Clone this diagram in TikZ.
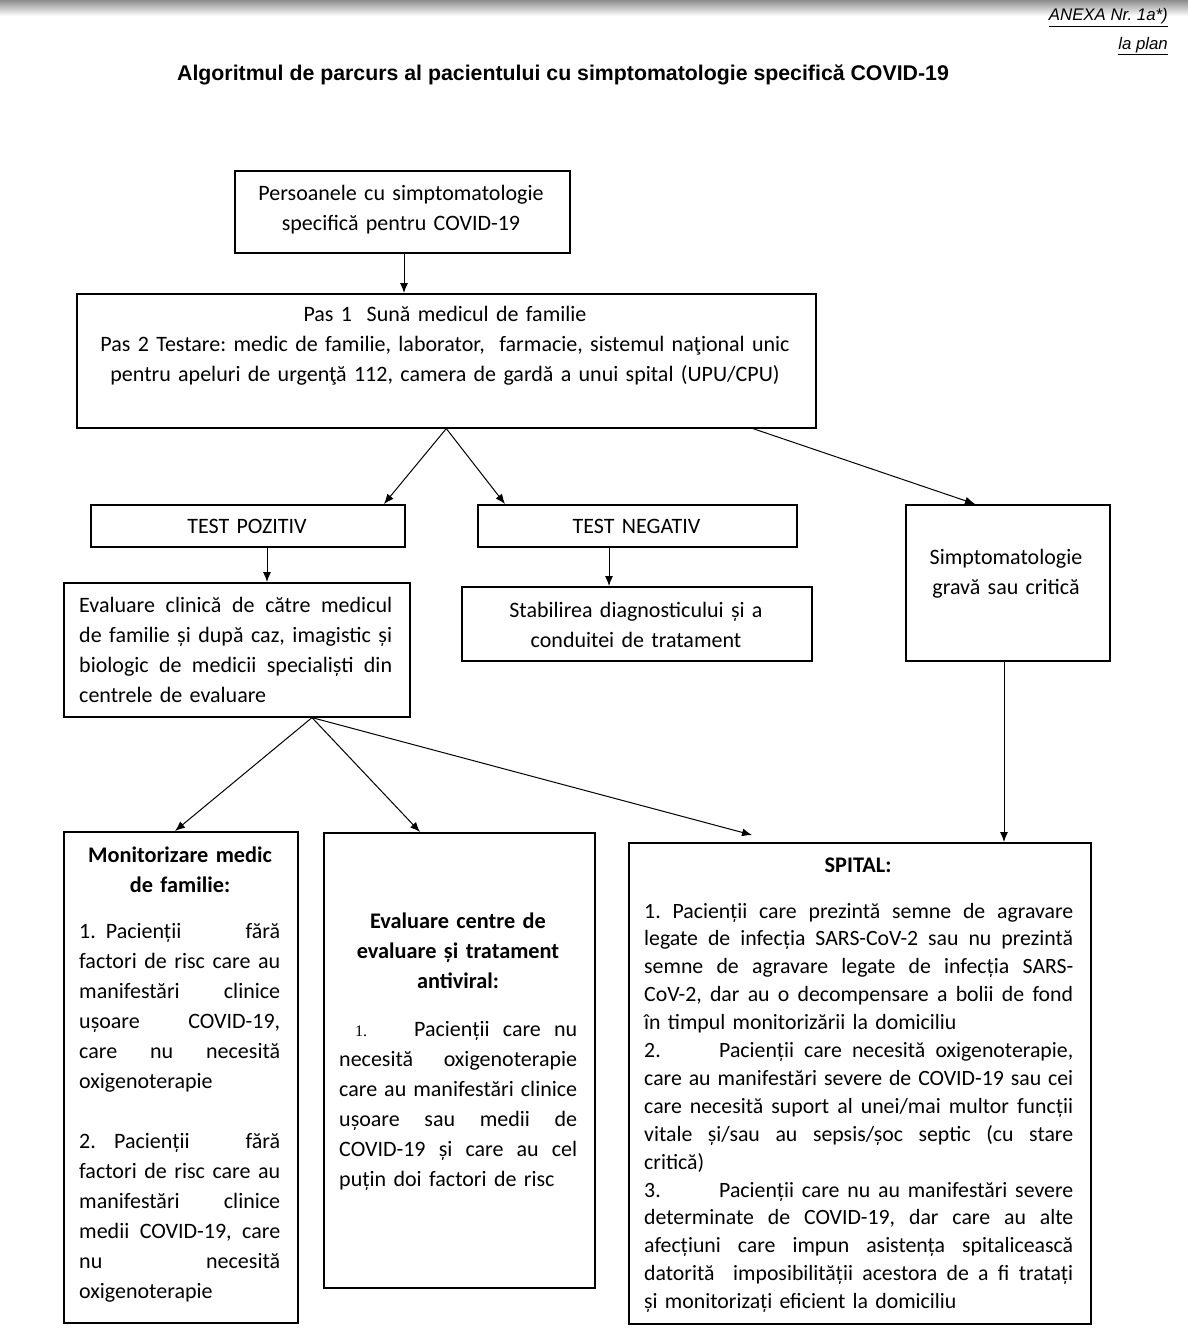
\documentclass[tikz,border=0pt]{standalone}
\usepackage{fontspec}
\setmainfont{Carlito}
\newfontfamily\arialf{Liberation Sans}
\newfontfamily\tnrf{Liberation Serif}
\usetikzlibrary{arrows.meta}
\frenchspacing
\def\jwm{100pt}
\newcommand\jl[1]{\leavevmode\hbox to \jwm{\spaceskip=.226em plus 1fil minus .1em\relax #1}}
\newcommand\bodyfont{\fontsize{22}{30}\selectfont}
\tikzset{
  box/.style={draw, line width=1.6pt, inner sep=0pt, anchor=north west},
  arr/.style={-{Latex[length=10pt,width=8pt]}, line width=1pt},
  txt/.style={inner sep=0pt, font=\bodyfont},
  txtc/.style={txt, align=center, anchor=base},
  txtj/.style={txt, align=left, anchor=base west, text width=#1},
  head/.style={inner sep=0pt, align=center, anchor=base, font=\bfseries\fontsize{22.3}{30}\selectfont},
}
\begin{document}
\begin{tikzpicture}[x=1pt,y=-1pt]
\useasboundingbox (0,0) rectangle (1188,1330);
\shade[top color=black!45, bottom color=white] (0,0) rectangle (1188,16);

% header
\node[inner sep=0pt, anchor=base east, font=\arialf\itshape\fontsize{16.8}{18}\selectfont] (anexa) at (1168,21) {\underline{ANEXA Nr. 1a*)}};
\node[inner sep=0pt, anchor=base east, font=\arialf\itshape\fontsize{16.8}{18}\selectfont] (laplan) at (1168,49) {\underline{la plan}};
\node[inner sep=0pt, anchor=base, font=\arialf\bfseries\fontsize{21.3}{24}\selectfont] (title) at (563,81) {Algoritmul de parcurs al pacientului cu simptomatologie specifică COVID-19};

% boxes
\node[box, minimum width=335pt, minimum height=82pt] (A) at (234,170) {};
\node[box, minimum width=739pt, minimum height=134pt] (B) at (76,293) {};
\node[box, minimum width=314pt, minimum height=42pt] (TP) at (90,504) {};
\node[box, minimum width=319pt, minimum height=42pt] (TN) at (477,504) {};
\node[box, minimum width=204pt, minimum height=156pt] (SG) at (905,504) {};
\node[box, minimum width=346pt, minimum height=134pt] (EC) at (63,582) {};
\node[box, minimum width=350pt, minimum height=74pt] (ST) at (461,586) {};
\node[box, minimum width=234pt, minimum height=491pt] (MO) at (63,831) {};
\node[box, minimum width=271pt, minimum height=455pt] (EV) at (323,832) {};
\node[box, minimum width=462pt, minimum height=481pt] (SP) at (628,842) {};

% texts
\node[txtc, text width=330pt] (tA) at (401,200) {Persoanele cu simptomatologie\\specifică pentru COVID-19};
\node[txtc, text width=735pt] (tB) at (445,321) {Pas 1\ \ Sună medicul de familie\\Pas 2 Testare: medic de familie, laborator,\ \ farmacie, sistemul naţional unic\\pentru apeluri de urgenţă 112, camera de gardă a unui spital (UPU/CPU)};
\node[txtc, text width=300pt] (tTP) at (247,533) {TEST POZITIV};
\node[txtc, text width=300pt] (tTN) at (636.5,533) {TEST NEGATIV};
\node[txtc, text width=200pt] (tSG) at (1006,564) {Simptomatologie\\gravă sau critică};
\node[txtj=313pt] (tEC) at (79,612) {\def\jwm{313pt}\jl{Evaluare clinică de către medicul}\\\jl{de familie și după caz, imagistic și}\\\jl{biologic de medicii specialiști din}\\centrele de evaluare};
\node[txtc, text width=345pt] (tST) at (636,617) {Stabilirea diagnosticului și a\\conduitei de tratament};

\node[head, text width=230pt] (hMO) at (180,862) {Monitorizare medic\\de familie:};
\node[txtj=201pt] (tMO) at (79,938) {\def\jwm{201pt}\jl{1.\hspace{10pt}Pacienții fără}\\\jl{factori de risc care au}\\\jl{manifestări clinice}\\\jl{ușoare COVID-19,}\\\jl{care nu necesită}\\oxigenoterapie\\[30pt]\jl{\makebox[35pt][l]{2.}Pacienții fără}\\\jl{factori de risc care au}\\\jl{manifestări clinice}\\\jl{medii COVID-19, care}\\\jl{nu necesită}\\oxigenoterapie};

\node[head, text width=265pt] (hEV) at (458,928) {Evaluare centre de\\evaluare și tratament\\antiviral:};
\node[txtj=238pt] (tEV) at (339,1036) {\def\jwm{238pt}\jl{\makebox[75pt][l]{\hspace{16pt}{\tnrf\fontsize{16}{20}\selectfont 1.}}Pacienții care nu}\\\jl{necesită oxigenoterapie}\\\jl{care au manifestări clinice}\\\jl{ușoare sau medii de}\\\jl{COVID-19 și care au cel}\\puțin doi factori de risc};

\node[head, text width=455pt] (hSP) at (858,872) {SPITAL:};
\node[txtj=429pt, font={\fontsize{21.8}{27.9}\selectfont}] (tSP) at (644,918) {\def\jwm{429pt}\jl{1. Pacienții care prezintă semne de agravare}\\\jl{legate de infecția SARS-CoV-2 sau nu prezintă}\\\jl{semne de agravare legate de infecția SARS-}\\\jl{CoV-2, dar au o decompensare a bolii de fond}\\în timpul monitorizării la domiciliu\\\jl{\makebox[75pt][l]{2.}Pacienții care necesită oxigenoterapie,}\\\jl{care au manifestări severe de COVID-19 sau cei}\\\jl{care necesită suport al unei/mai multor funcții}\\\jl{vitale și/sau au sepsis/șoc septic (cu stare}\\critică)\\\jl{\makebox[75pt][l]{3.}Pacienții care nu au manifestări severe}\\\jl{determinate de COVID-19, dar care au alte}\\\jl{afecțiuni care impun asistența spitalicească}\\\jl{datorită\ \ imposibilității acestora de a fi tratați}\\și monitorizați eficient la domiciliu};

% connectors
\draw[arr] (404,0 |- A.south) -- (404,0 |- B.north);
\draw[arr] (B.south) -- (384,0 |- TP.north);
\draw[arr] (B.south) -- (505,0 |- TN.north);
\draw[arr] (753,0 |- B.south) -- (975,0 |- SG.north);
\draw[arr] (267,0 |- TP.south) -- (267,0 |- EC.north);
\draw[arr] (609,0 |- TN.south) -- (609,0 |- ST.north);
\draw[arr] (312,0 |- EC.south) -- (175,0 |- MO.north);
\draw[arr] (312,0 |- EC.south) -- (420,0 |- EV.north);
\draw[arr] (312,0 |- EC.south) -- (752,835);
\draw[arr] (1004,0 |- SG.south) -- (1004,0 |- SP.north);
\end{tikzpicture}
\end{document}
